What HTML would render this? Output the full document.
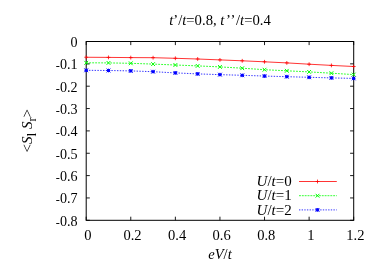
<!DOCTYPE html>
<html><head><meta charset="utf-8"><style>
html,body{margin:0;padding:0;background:#fff;}
body{width:382px;height:266px;overflow:hidden;position:relative;font-family:"Liberation Serif",serif;}
svg{position:absolute;left:0;top:0;will-change:transform;}
text{font-family:"Liberation Serif",serif;font-size:15px;fill:#000;}
.i{font-style:italic;}
</style></head><body>
<svg width="382" height="266" viewBox="0 0 382 266">
<text transform="translate(220.00,25.00) scale(0.98,1)" text-anchor="middle" id="title"><tspan class="i">t</tspan>’/<tspan class="i">t</tspan>=0.8, <tspan class="i">t</tspan><tspan dx="1.6">’</tspan><tspan dx="-0.3">’</tspan><tspan dx="0.5">/</tspan><tspan class="i">t</tspan>=0.4</text>
<rect x="86.2" y="41.5" width="267.50" height="178.80" fill="none" stroke="#000" stroke-width="1"/>
<path d="M86.20 220.3 v-3.6 M86.20 41.5 v3.6 M130.78 220.3 v-3.6 M130.78 41.5 v3.6 M175.37 220.3 v-3.6 M175.37 41.5 v3.6 M219.95 220.3 v-3.6 M219.95 41.5 v3.6 M264.53 220.3 v-3.6 M264.53 41.5 v3.6 M309.12 220.3 v-3.6 M309.12 41.5 v3.6 M353.70 220.3 v-3.6 M353.70 41.5 v3.6 M86.2 41.50 h3.6 M353.7 41.50 h-3.6 M86.2 63.85 h3.6 M353.7 63.85 h-3.6 M86.2 86.20 h3.6 M353.7 86.20 h-3.6 M86.2 108.55 h3.6 M353.7 108.55 h-3.6 M86.2 130.90 h3.6 M353.7 130.90 h-3.6 M86.2 153.25 h3.6 M353.7 153.25 h-3.6 M86.2 175.60 h3.6 M353.7 175.60 h-3.6 M86.2 197.95 h3.6 M353.7 197.95 h-3.6 M86.2 220.30 h3.6 M353.7 220.30 h-3.6" stroke="#000" stroke-width="0.9" fill="none"/>
<text transform="translate(87.90,239.70) scale(0.97,1)" text-anchor="middle">0</text>
<text transform="translate(132.48,239.70) scale(0.97,1)" text-anchor="middle">0.2</text>
<text transform="translate(177.07,239.70) scale(0.97,1)" text-anchor="middle">0.4</text>
<text transform="translate(221.65,239.70) scale(0.97,1)" text-anchor="middle">0.6</text>
<text transform="translate(266.23,239.70) scale(0.97,1)" text-anchor="middle">0.8</text>
<text transform="translate(310.82,239.70) scale(0.97,1)" text-anchor="middle">1</text>
<text transform="translate(355.40,239.70) scale(0.97,1)" text-anchor="middle">1.2</text>
<text transform="translate(77.50,46.80) scale(0.94,1)" text-anchor="end">0</text>
<text transform="translate(77.50,69.15) scale(0.94,1)" text-anchor="end"><tspan font-size="13px">-</tspan>0.1</text>
<text transform="translate(77.50,91.50) scale(0.94,1)" text-anchor="end"><tspan font-size="13px">-</tspan>0.2</text>
<text transform="translate(77.50,113.85) scale(0.94,1)" text-anchor="end"><tspan font-size="13px">-</tspan>0.3</text>
<text transform="translate(77.50,136.20) scale(0.94,1)" text-anchor="end"><tspan font-size="13px">-</tspan>0.4</text>
<text transform="translate(77.50,158.55) scale(0.94,1)" text-anchor="end"><tspan font-size="13px">-</tspan>0.5</text>
<text transform="translate(77.50,180.90) scale(0.94,1)" text-anchor="end"><tspan font-size="13px">-</tspan>0.6</text>
<text transform="translate(77.50,203.25) scale(0.94,1)" text-anchor="end"><tspan font-size="13px">-</tspan>0.7</text>
<text transform="translate(77.50,225.60) scale(0.94,1)" text-anchor="end"><tspan font-size="13px">-</tspan>0.8</text>
<text transform="translate(220.00,259.00) scale(0.97,1)" text-anchor="middle"><tspan class="i">eV</tspan>/<tspan class="i">t</tspan></text>
<text transform="translate(32,130.7) rotate(-90)" text-anchor="middle">&lt;<tspan class="i">S</tspan><tspan dy="3.5" font-size="13.5px">l</tspan><tspan dy="-3.5" class="i"> S</tspan><tspan dy="3.5" font-size="12px">r</tspan><tspan dy="-3.5">&gt;</tspan></text>
<polyline points="86.20,57.25 108.49,57.40 130.78,57.60 153.08,57.70 175.37,58.30 197.66,59.00 219.95,59.90 242.24,60.80 264.53,61.80 286.82,62.90 309.12,64.20 331.41,65.40 353.70,66.50" fill="none" stroke="#ff0000" stroke-width="0.8"/>
<polyline points="86.20,62.80 108.49,62.90 130.78,63.30 153.08,64.10 175.37,65.00 197.66,65.90 219.95,66.90 242.24,68.20 264.53,69.70 286.82,70.80 309.12,71.90 331.41,73.20 353.70,74.60" fill="none" stroke="#00ff00" stroke-width="0.8" stroke-dasharray="1.9 1.1"/>
<polyline points="86.20,70.30 108.49,70.50 130.78,70.90 153.08,71.70 175.37,72.90 197.66,73.90 219.95,74.65 242.24,75.30 264.53,76.05 286.82,76.70 309.12,77.30 331.41,77.90 353.70,78.40" fill="none" stroke="#0000ff" stroke-width="0.8" stroke-dasharray="1.4 1.4"/>
<path d="M84.30 57.25 h3.8 M86.20 55.35 v3.8" stroke="#ff0000" stroke-width="0.8" fill="none"/>
<path d="M106.59 57.40 h3.8 M108.49 55.50 v3.8" stroke="#ff0000" stroke-width="0.8" fill="none"/>
<path d="M128.88 57.60 h3.8 M130.78 55.70 v3.8" stroke="#ff0000" stroke-width="0.8" fill="none"/>
<path d="M151.18 57.70 h3.8 M153.08 55.80 v3.8" stroke="#ff0000" stroke-width="0.8" fill="none"/>
<path d="M173.47 58.30 h3.8 M175.37 56.40 v3.8" stroke="#ff0000" stroke-width="0.8" fill="none"/>
<path d="M195.76 59.00 h3.8 M197.66 57.10 v3.8" stroke="#ff0000" stroke-width="0.8" fill="none"/>
<path d="M218.05 59.90 h3.8 M219.95 58.00 v3.8" stroke="#ff0000" stroke-width="0.8" fill="none"/>
<path d="M240.34 60.80 h3.8 M242.24 58.90 v3.8" stroke="#ff0000" stroke-width="0.8" fill="none"/>
<path d="M262.63 61.80 h3.8 M264.53 59.90 v3.8" stroke="#ff0000" stroke-width="0.8" fill="none"/>
<path d="M284.93 62.90 h3.8 M286.82 61.00 v3.8" stroke="#ff0000" stroke-width="0.8" fill="none"/>
<path d="M307.22 64.20 h3.8 M309.12 62.30 v3.8" stroke="#ff0000" stroke-width="0.8" fill="none"/>
<path d="M329.51 65.40 h3.8 M331.41 63.50 v3.8" stroke="#ff0000" stroke-width="0.8" fill="none"/>
<path d="M351.80 66.50 h3.8 M353.70 64.60 v3.8" stroke="#ff0000" stroke-width="0.8" fill="none"/>
<path d="M84.30 60.90 l3.8 3.8 M84.30 64.70 l3.8 -3.8" stroke="#00ff00" stroke-width="1" fill="none"/>
<path d="M106.59 61.00 l3.8 3.8 M106.59 64.80 l3.8 -3.8" stroke="#00ff00" stroke-width="1" fill="none"/>
<path d="M128.88 61.40 l3.8 3.8 M128.88 65.20 l3.8 -3.8" stroke="#00ff00" stroke-width="1" fill="none"/>
<path d="M151.18 62.20 l3.8 3.8 M151.18 66.00 l3.8 -3.8" stroke="#00ff00" stroke-width="1" fill="none"/>
<path d="M173.47 63.10 l3.8 3.8 M173.47 66.90 l3.8 -3.8" stroke="#00ff00" stroke-width="1" fill="none"/>
<path d="M195.76 64.00 l3.8 3.8 M195.76 67.80 l3.8 -3.8" stroke="#00ff00" stroke-width="1" fill="none"/>
<path d="M218.05 65.00 l3.8 3.8 M218.05 68.80 l3.8 -3.8" stroke="#00ff00" stroke-width="1" fill="none"/>
<path d="M240.34 66.30 l3.8 3.8 M240.34 70.10 l3.8 -3.8" stroke="#00ff00" stroke-width="1" fill="none"/>
<path d="M262.63 67.80 l3.8 3.8 M262.63 71.60 l3.8 -3.8" stroke="#00ff00" stroke-width="1" fill="none"/>
<path d="M284.93 68.90 l3.8 3.8 M284.93 72.70 l3.8 -3.8" stroke="#00ff00" stroke-width="1" fill="none"/>
<path d="M307.22 70.00 l3.8 3.8 M307.22 73.80 l3.8 -3.8" stroke="#00ff00" stroke-width="1" fill="none"/>
<path d="M329.51 71.30 l3.8 3.8 M329.51 75.10 l3.8 -3.8" stroke="#00ff00" stroke-width="1" fill="none"/>
<path d="M351.80 72.70 l3.8 3.8 M351.80 76.50 l3.8 -3.8" stroke="#00ff00" stroke-width="1" fill="none"/>
<path d="M84.30 70.30 h3.8 M86.20 68.40 v3.8" stroke="#0000ff" stroke-width="0.8" fill="none"/>
<path d="M84.30 68.40 l3.8 3.8 M84.30 72.20 l3.8 -3.8" stroke="#0000ff" stroke-width="1" fill="none"/>
<rect x="84.90" y="69.00" width="2.6" height="2.6" fill="#0000ff"/>
<path d="M106.59 70.50 h3.8 M108.49 68.60 v3.8" stroke="#0000ff" stroke-width="0.8" fill="none"/>
<path d="M106.59 68.60 l3.8 3.8 M106.59 72.40 l3.8 -3.8" stroke="#0000ff" stroke-width="1" fill="none"/>
<rect x="107.19" y="69.20" width="2.6" height="2.6" fill="#0000ff"/>
<path d="M128.88 70.90 h3.8 M130.78 69.00 v3.8" stroke="#0000ff" stroke-width="0.8" fill="none"/>
<path d="M128.88 69.00 l3.8 3.8 M128.88 72.80 l3.8 -3.8" stroke="#0000ff" stroke-width="1" fill="none"/>
<rect x="129.48" y="69.60" width="2.6" height="2.6" fill="#0000ff"/>
<path d="M151.18 71.70 h3.8 M153.08 69.80 v3.8" stroke="#0000ff" stroke-width="0.8" fill="none"/>
<path d="M151.18 69.80 l3.8 3.8 M151.18 73.60 l3.8 -3.8" stroke="#0000ff" stroke-width="1" fill="none"/>
<rect x="151.78" y="70.40" width="2.6" height="2.6" fill="#0000ff"/>
<path d="M173.47 72.90 h3.8 M175.37 71.00 v3.8" stroke="#0000ff" stroke-width="0.8" fill="none"/>
<path d="M173.47 71.00 l3.8 3.8 M173.47 74.80 l3.8 -3.8" stroke="#0000ff" stroke-width="1" fill="none"/>
<rect x="174.07" y="71.60" width="2.6" height="2.6" fill="#0000ff"/>
<path d="M195.76 73.90 h3.8 M197.66 72.00 v3.8" stroke="#0000ff" stroke-width="0.8" fill="none"/>
<path d="M195.76 72.00 l3.8 3.8 M195.76 75.80 l3.8 -3.8" stroke="#0000ff" stroke-width="1" fill="none"/>
<rect x="196.36" y="72.60" width="2.6" height="2.6" fill="#0000ff"/>
<path d="M218.05 74.65 h3.8 M219.95 72.75 v3.8" stroke="#0000ff" stroke-width="0.8" fill="none"/>
<path d="M218.05 72.75 l3.8 3.8 M218.05 76.55 l3.8 -3.8" stroke="#0000ff" stroke-width="1" fill="none"/>
<rect x="218.65" y="73.35" width="2.6" height="2.6" fill="#0000ff"/>
<path d="M240.34 75.30 h3.8 M242.24 73.40 v3.8" stroke="#0000ff" stroke-width="0.8" fill="none"/>
<path d="M240.34 73.40 l3.8 3.8 M240.34 77.20 l3.8 -3.8" stroke="#0000ff" stroke-width="1" fill="none"/>
<rect x="240.94" y="74.00" width="2.6" height="2.6" fill="#0000ff"/>
<path d="M262.63 76.05 h3.8 M264.53 74.15 v3.8" stroke="#0000ff" stroke-width="0.8" fill="none"/>
<path d="M262.63 74.15 l3.8 3.8 M262.63 77.95 l3.8 -3.8" stroke="#0000ff" stroke-width="1" fill="none"/>
<rect x="263.23" y="74.75" width="2.6" height="2.6" fill="#0000ff"/>
<path d="M284.93 76.70 h3.8 M286.82 74.80 v3.8" stroke="#0000ff" stroke-width="0.8" fill="none"/>
<path d="M284.93 74.80 l3.8 3.8 M284.93 78.60 l3.8 -3.8" stroke="#0000ff" stroke-width="1" fill="none"/>
<rect x="285.52" y="75.40" width="2.6" height="2.6" fill="#0000ff"/>
<path d="M307.22 77.30 h3.8 M309.12 75.40 v3.8" stroke="#0000ff" stroke-width="0.8" fill="none"/>
<path d="M307.22 75.40 l3.8 3.8 M307.22 79.20 l3.8 -3.8" stroke="#0000ff" stroke-width="1" fill="none"/>
<rect x="307.82" y="76.00" width="2.6" height="2.6" fill="#0000ff"/>
<path d="M329.51 77.90 h3.8 M331.41 76.00 v3.8" stroke="#0000ff" stroke-width="0.8" fill="none"/>
<path d="M329.51 76.00 l3.8 3.8 M329.51 79.80 l3.8 -3.8" stroke="#0000ff" stroke-width="1" fill="none"/>
<rect x="330.11" y="76.60" width="2.6" height="2.6" fill="#0000ff"/>
<path d="M351.80 78.40 h3.8 M353.70 76.50 v3.8" stroke="#0000ff" stroke-width="0.8" fill="none"/>
<path d="M351.80 76.50 l3.8 3.8 M351.80 80.30 l3.8 -3.8" stroke="#0000ff" stroke-width="1" fill="none"/>
<rect x="352.40" y="77.10" width="2.6" height="2.6" fill="#0000ff"/>
<text transform="translate(291.70,186.20) scale(1.0,1)" text-anchor="end"><tspan class="i">U</tspan>/<tspan class="i">t</tspan>=0</text>
<path d="M299 181.5 H336.8" stroke="#ff0000" stroke-width="0.8" fill="none"/>
<path d="M315.60 181.50 h3.8 M317.50 179.60 v3.8" stroke="#ff0000" stroke-width="0.8" fill="none"/>
<text transform="translate(291.70,200.40) scale(1.0,1)" text-anchor="end"><tspan class="i">U</tspan>/<tspan class="i">t</tspan>=1</text>
<path d="M299 195.7 H336.8" stroke="#00ff00" stroke-width="0.8" fill="none" stroke-dasharray="1.9 0.95"/>
<path d="M315.60 193.80 l3.8 3.8 M315.60 197.60 l3.8 -3.8" stroke="#00ff00" stroke-width="1" fill="none"/>
<text transform="translate(291.70,214.60) scale(1.0,1)" text-anchor="end"><tspan class="i">U</tspan>/<tspan class="i">t</tspan>=2</text>
<path d="M299 209.9 H336.8" stroke="#0000ff" stroke-width="0.8" fill="none" stroke-dasharray="1.35 1.3"/>
<path d="M315.60 209.90 h3.8 M317.50 208.00 v3.8" stroke="#0000ff" stroke-width="0.8" fill="none"/>
<path d="M315.60 208.00 l3.8 3.8 M315.60 211.80 l3.8 -3.8" stroke="#0000ff" stroke-width="1" fill="none"/>
<rect x="316.20" y="208.60" width="2.6" height="2.6" fill="#0000ff"/>
</svg></body></html>
